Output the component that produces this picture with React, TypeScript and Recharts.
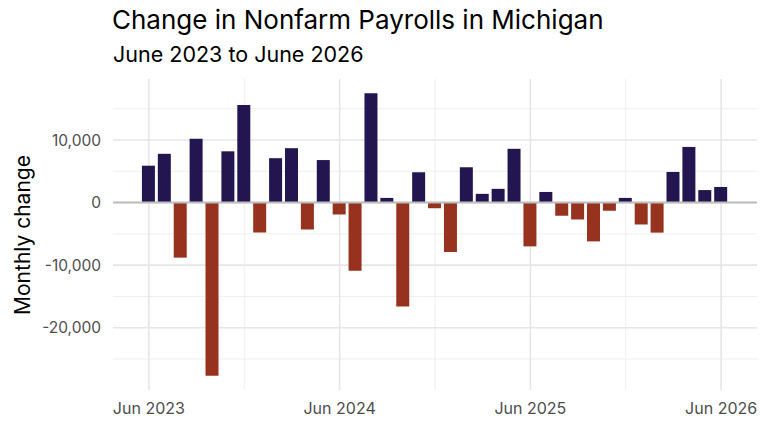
import { ComposedChart, Bar, Cell, XAxis, YAxis, CartesianGrid, ReferenceLine } from 'recharts'

const MONTHS = [
    'Jun 2023', 'Jul 2023', 'Aug 2023', 'Sep 2023', 'Oct 2023', 'Nov 2023', 'Dec 2023',
    'Jan 2024', 'Feb 2024', 'Mar 2024', 'Apr 2024', 'May 2024', 'Jun 2024',
    'Jul 2024', 'Aug 2024', 'Sep 2024', 'Oct 2024', 'Nov 2024', 'Dec 2024',
    'Jan 2025', 'Feb 2025', 'Mar 2025', 'Apr 2025', 'May 2025', 'Jun 2025',
    'Jul 2025', 'Aug 2025', 'Sep 2025', 'Oct 2025', 'Nov 2025', 'Dec 2025',
    'Jan 2026', 'Feb 2026', 'Mar 2026', 'Apr 2026', 'May 2026', 'Jun 2026',
]

const CHANGES = [
    5900, 7800, -8800, 10200, -27700, 8200, 15600,
    -4800, 7100, 8700, -4300, 6800, -1900,
    -10900, 17500, 750, -16600, 4850, -900,
    -7900, 5650, 1400, 2200, 8600, -7000,
    1700, -2100, -2700, -6200, -1300, 750,
    -3500, -4800, 4900, 8900, 2000, 2500,
]

// month index of each x gridline (labelled ones are June)
const MAJOR_X = [0, 12, 24, 36]
const MINOR_X = [6, 18, 30]
const MAJOR_Y = [-20000, -10000, 0, 10000]
const MINOR_Y = [-25000, -15000, -5000, 5000, 15000]

const GAIN = '#231650'
const LOSS = '#96321d'

const data = MONTHS.map((month, i) => ({ idx: i, month, change: CHANGES[i] }))

// ggplot-style 5% expansion around the data
const yMin = Math.min(...CHANGES)
const yMax = Math.max(...CHANGES)
const yPad = (yMax - yMin) * 0.05
const Y_DOMAIN = [yMin - yPad, yMax + yPad]
const halfBar = 0.415
const xPad = (MONTHS.length - 1 + halfBar * 2) * 0.05
const X_DOMAIN = [-halfBar - xPad, MONTHS.length - 1 + halfBar + xPad]

const fmt = (v: number) => v.toLocaleString('en-US')

export default function App() {
    return (
        <div style={{ position: 'absolute', left: 0, top: 0, width: 775, height: 429, background: '#fff', fontFamily: 'Inter' }}>
            <div style={{ position: 'absolute', left: 112, top: 7, fontSize: 26, lineHeight: 1, color: '#000', whiteSpace: 'nowrap' }}>
                Change in Nonfarm Payrolls in Michigan
            </div>
            <div style={{ position: 'absolute', left: 113, top: 44, fontSize: 21.5, lineHeight: 1, color: '#000', whiteSpace: 'nowrap' }}>
                June 2023 to June 2026
            </div>
            <div
                style={{
                    position: 'absolute', left: 22, top: 235, fontSize: 21, lineHeight: 1, color: '#000',
                    whiteSpace: 'nowrap', transform: 'translate(-50%, -50%) rotate(-90deg)',
                }}
            >
                Monthly change
            </div>

            <ComposedChart width={775} height={429} data={data} margin={{ top: 79, right: 18, bottom: 0, left: 0 }}>
                <XAxis
                    dataKey="idx"
                    type="number"
                    domain={X_DOMAIN}
                    allowDataOverflow
                    ticks={MAJOR_X}
                    tickFormatter={(v) => MONTHS[v]}
                    height={39}
                    axisLine={false}
                    tickLine={false}
                    tickSize={0}
                    tickMargin={13}
                    tick={{ fontSize: 16, fill: '#4d4d4d', fontFamily: 'Inter' }}
                />
                <XAxis xAxisId="minor" dataKey="idx" type="number" domain={X_DOMAIN} allowDataOverflow ticks={MINOR_X} hide />
                <YAxis
                    type="number"
                    domain={Y_DOMAIN}
                    allowDataOverflow
                    ticks={MAJOR_Y}
                    tickFormatter={fmt}
                    width={113}
                    axisLine={false}
                    tickLine={false}
                    tickSize={0}
                    tickMargin={12}
                    tick={{ fontSize: 15.5, fill: '#4d4d4d', fontFamily: 'Inter' }}
                />
                <YAxis yAxisId="minor" type="number" domain={Y_DOMAIN} allowDataOverflow ticks={MINOR_Y} hide />

                {/* minor then major grid */}
                <CartesianGrid xAxisId="minor" yAxisId="minor" stroke="#eeeeee" strokeWidth={1} syncWithTicks />
                <CartesianGrid stroke="#e6e6e6" strokeWidth={1.6} syncWithTicks />
                <ReferenceLine y={0} stroke="#bdbdbd" strokeWidth={2} />

                <Bar dataKey="change" barSize={13} isAnimationActive={false}>
                    {data.map((d) => (
                        <Cell key={d.idx} fill={d.change >= 0 ? GAIN : LOSS} />
                    ))}
                </Bar>
            </ComposedChart>
        </div>
    )
}
